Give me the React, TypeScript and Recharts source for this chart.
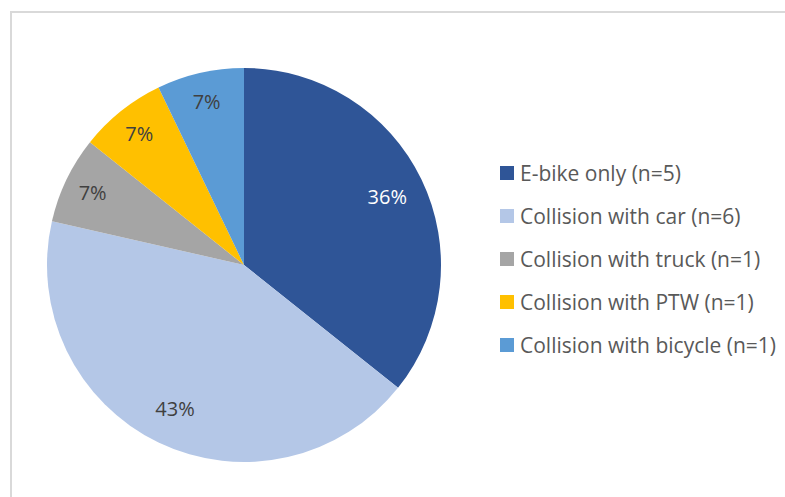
import React from 'react';
import { PieChart, Pie, Cell } from 'recharts';

const categories = [
  'E-bike only (n=5)',
  'Collision with car (n=6)',
  'Collision with truck (n=1)',
  'Collision with PTW (n=1)',
  'Collision with bicycle (n=1)',
];
const counts = [5, 6, 1, 1, 1];
const percentLabels = ['36%', '43%', '7%', '7%', '7%'];
const COLORS = ['#2F5597', '#B4C7E7', '#A5A5A5', '#FFC000', '#5B9BD5'];
const LABEL_COLORS = ['#FFFFFF', '#404040', '#404040', '#404040', '#404040'];

const data = categories.map((name, i) => ({ name, value: counts[i], label: percentLabels[i] }));

const FONT = '"Open Sans", Calibri, sans-serif';
const RAD = Math.PI / 180;

const renderLabel = (props: any) => {
  const { cx, cy, midAngle, index, percent } = props;
  // small slices get their labels pushed a bit further out
  const r = percent < 0.2 ? 168 : 159;
  const x = cx + r * Math.cos(-midAngle * RAD);
  const y = cy + r * Math.sin(-midAngle * RAD);
  return (
    <text
      x={x}
      y={y}
      fill={LABEL_COLORS[index]}
      textAnchor="middle"
      dominantBaseline="central"
      fontSize={20}
      fontFamily={FONT}
    >
      {data[index].label}
    </text>
  );
};

const LegendBox = () => (
  <div
    style={{
      position: 'absolute',
      left: 500,
      top: 151,
      fontFamily: FONT,
      fontSize: 21,
      color: '#595959',
      whiteSpace: 'nowrap',
    }}
  >
    {categories.map((c, i) => (
      <div key={c} style={{ display: 'flex', alignItems: 'center', height: 43 }}>
        <span style={{ width: 14, height: 14, background: COLORS[i], marginRight: 6, display: 'inline-block' }} />
        <span>{c}</span>
      </div>
    ))}
  </div>
);

export default function App() {
  return (
    <div style={{ position: 'fixed', left: 0, top: 0, width: 785, height: 497, background: '#fff', overflow: 'hidden' }}>
      <div
        style={{
          position: 'absolute',
          left: 10,
          top: 11,
          width: 800,
          height: 520,
          border: '2px solid #D9D9D9',
          boxSizing: 'border-box',
        }}
      />
      <div style={{ position: 'absolute', left: 0, top: 0 }}>
        <PieChart width={785} height={497} margin={{ top: 0, right: 0, bottom: 0, left: 0 }}>
          <Pie
            data={data}
            dataKey="value"
            nameKey="name"
            cx={244}
            cy={265}
            outerRadius={197}
            startAngle={90}
            endAngle={-270}
            stroke="none"
            labelLine={false}
            label={renderLabel}
            isAnimationActive={false}
          >
            {data.map((d, i) => (
              <Cell key={d.name} fill={COLORS[i]} />
            ))}
          </Pie>
        </PieChart>
      </div>
      <LegendBox />
    </div>
  );
}
